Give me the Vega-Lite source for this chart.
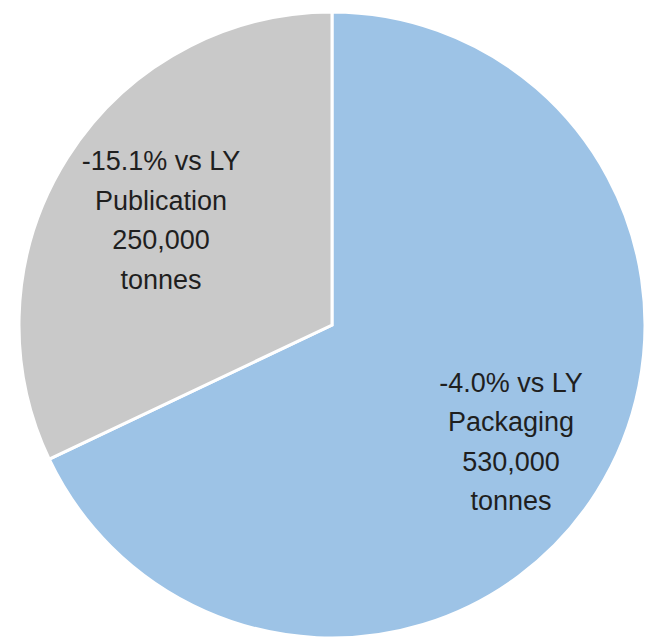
{
  "$schema": "https://vega.github.io/schema/vega-lite/v6.json",
  "width": 626,
  "height": 626,
  "padding": {"left": 13, "top": 6, "right": 15, "bottom": 6},
  "background": "white",
  "view": {"stroke": null},
  "data": {
    "values": [
      {"category": "Packaging", "tonnes": 530000, "order": 1, "label": "-4.0% vs LY\nPackaging\n530,000\ntonnes"},
      {"category": "Publication", "tonnes": 250000, "order": 2, "label": "-15.1% vs LY\nPublication\n250,000\ntonnes"}
    ]
  },
  "encoding": {
    "theta": {"field": "tonnes", "type": "quantitative", "stack": true},
    "order": {"field": "order", "type": "quantitative"}
  },
  "layer": [
    {
      "mark": {"type": "arc", "stroke": "white", "strokeWidth": 3},
      "encoding": {
        "color": {
          "field": "category",
          "type": "nominal",
          "scale": {"domain": ["Packaging", "Publication"], "range": ["#9DC3E6", "#C9C9C9"]},
          "legend": null
        }
      }
    },
    {
      "mark": {
        "type": "text",
        "radius": 207,
        "font": "Liberation Sans",
        "fontSize": 27,
        "lineHeight": 39.5,
        "lineBreak": "\n",
        "align": "center",
        "baseline": "middle",
        "dx": 4,
        "dy": -52,
        "color": "#1f1f1f"
      },
      "encoding": {
        "text": {"field": "label", "type": "nominal"}
      }
    }
  ]
}
